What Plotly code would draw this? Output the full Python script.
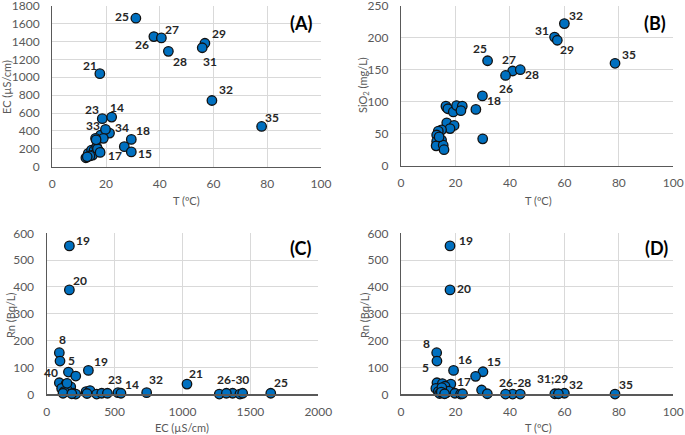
import plotly.graph_objects as go

W, H = 685, 435

# ---------------- Panel A: T vs EC ----------------
T_A = [31.1, 37.8, 40.6, 43.2, 56.8, 55.8, 17.7, 59.4, 77.9, 18.6, 22.1, 18.0, 21.3, 29.4, 26.8, 29.4,
       19.8, 19.0, 16.1, 12.5, 13.4, 14.6, 15.5, 17.5, 16.5, 15.0, 14.0, 13.0, 16.8, 17.8, 16.3]
EC_A = [1660, 1455, 1440, 1290, 1380, 1330, 1040, 740, 450, 537, 555, 354, 376, 305, 224, 165,
        417, 317, 317, 100, 149, 186, 179, 170, 223, 130, 120, 110, 200, 160, 300]
LAB_A = ["25", "26", "27", "28", "29", "31", "21", "32", "35", "23", "14", "33", "34", "18", "17", "15"]
OFF_A = [(-14, -2), (-12, 8), (11, -8), (12, 10), (14, -10), (8, 14), (-10, -8), (14, -11), (10, -9),
         (-10, -9), (5, -10), (-8, -10), (12, -6), (12, -9), (-9, 9), (14, 2)]

# ---------------- Panel B: T vs SiO2 ----------------
T_B = [60.0, 56.4, 57.4, 78.6, 31.8, 41.0, 43.8, 38.4, 29.9, 27.5, 30.0, 16.8, 16.5, 17.2, 19.2, 20.4,
       22.5, 22.0, 16.8, 19.5, 18.0, 14.9, 13.7, 13.1, 14.9, 13.1, 12.9, 15.5, 15.8, 14.0]
SI_B = [222, 201, 196, 160, 164, 148, 150, 141, 109, 88, 42, 91, 93, 89, 84, 94,
        93, 86, 67, 63, 58, 56, 54, 48, 40, 38, 31, 32, 25, 45]
LAB_B = ["32", "31", "29", "35", "25", "27", "28", "26", "18"]
OFF_B = [(12, -8), (-13, -7), (10, 9), (14, -9), (-8, -12), (-4, -11), (12, 5), (0, 13), (12, 5)]

# ---------------- Panel C: EC vs Rn ----------------
EC_C = [167, 167, 93, 98, 307, 93, 525, 547, 736, 1033, 1369, 1650,
        160, 214, 142, 177, 110, 152, 128, 120, 196, 214, 290, 319, 297, 368, 405, 447,
        1271, 1323, 1423, 1443, 150, 185]
RN_C = [553, 389, 155, 124, 89, 43, 6, 4, 6, 38, 4, 4,
        83, 68, 38, 28, 22, 16, 10, 4, 4, 1, 10, 14, 3, 1, 4, 4,
        1, 4, 1, 4, 41, 2]
LAB_C = ["19", "20", "8", "5", "19", "40", "23", "14", "32", "21", "26-30", "25"]
OFF_C = [(14, -5), (11, -9), (3, -13), (11, -1), (13, -9), (-8, -10), (-3, -13), (11, -9), (9, -13),
         (9, -11), (0, -14), (10, -11)]

# ---------------- Panel D: T vs Rn ----------------
T_D = [18.0, 18.0, 13.1, 13.2, 19.3, 30.1, 18.3, 41.0, 56.5, 60.0, 78.6,
       27.4, 13.2, 15.2, 16.2, 12.8, 13.7, 14.2, 15.5, 16.5, 17.5, 15.0, 19.8, 21.9, 22.6,
       29.6, 31.7, 38.4, 43.8, 57.8, 14.8, 16.0]
RN_D = [553, 389, 155, 124, 89, 84, 38, 1, 2, 4, 1,
        67, 43, 40, 30, 22, 10, 3, 14, 5, 12, 25, 4, 1, 2,
        16, 2, 1, 1, 2, 8, 2]
LAB_D = ["19", "20", "8", "5", "16", "15", "17", "26-28", "31;29", "32", "35"]
OFF_D = [(16, -5), (14, -1), (-10, -9), (-11, 6), (11, -11), (11, -10), (13, -3), (2, -12), (-2, -15),
         (12, -9), (11, -10)]

FONT = "Lato, 'Open Sans', sans-serif"
BLUE = "#0070C0"


def px(x):
    return x / W


def py(y):
    return 1 - y / H


panels = [
    dict(x=T_A, y=EC_A, lab=LAB_A, off=OFF_A, xd=(52.3, 321), yd=(5.7, 166.7), xr=[0, 100], yr=[0, 1800],
         dx=20, dy=200, letter="(A)", lpos=(301, 22.7), xt="T (ºC)", yt="EC (µS/cm)",
         xtp=(186, 200), ytp=(7, 87)),
    dict(x=T_B, y=SI_B, lab=LAB_B, off=OFF_B, xd=(401, 673.3), yd=(5.7, 165.7), xr=[0, 100], yr=[0, 250],
         dx=20, dy=50, letter="(B)", lpos=(655, 22.7), xt="T (ºC)", yt="SiO<sub>2</sub> (mg/L)",
         xtp=(538, 200), ytp=(364, 85)),
    dict(x=EC_C, y=RN_C, lab=LAB_C, off=OFF_C, xd=(46.7, 318.3), yd=(233.3, 394.3), xr=[0, 2000], yr=[0, 600],
         dx=500, dy=100, letter="(C)", lpos=(300, 248.3), xt="EC (µS/cm)", yt="Rn (Bq/L)",
         xtp=(182, 427), ytp=(10, 315)),
    dict(x=T_D, y=RN_D, lab=LAB_D, off=OFF_D, xd=(401, 673.3), yd=(233.3, 394.3), xr=[0, 100], yr=[0, 600],
         dx=20, dy=100, letter="(D)", lpos=(656, 248.3), xt="T (ºC)", yt="Rn (Bq/L)",
         xtp=(538, 427), ytp=(364, 315)),
]

fig = go.Figure()
annotations = []
layout = dict(
    width=W, height=H, margin=dict(l=0, r=0, t=0, b=0, autoexpand=False),
    paper_bgcolor="white", plot_bgcolor="white", showlegend=False,
    font=dict(family=FONT, size=12, color="#595959"),
)

for i, p in enumerate(panels):
    n = "" if i == 0 else str(i + 1)
    xa, ya = "x" + n, "y" + n
    fig.add_trace(go.Scatter(
        x=p["x"], y=p["y"], mode="markers", xaxis=xa, yaxis=ya, cliponaxis=False,
        marker=dict(size=9.5, color=BLUE, line=dict(color="#111111", width=1.3)),
        hoverinfo="skip",
    ))
    axis_common = dict(showgrid=True, gridcolor="#d9d9d9", gridwidth=1, zeroline=False,
                       showline=True, linecolor="#595959", linewidth=1.2, ticks="",
                       automargin=False, ticklabeloverflow="allow",
                       tickfont=dict(family=FONT, size=12, color="#595959"), fixedrange=True)
    layout["xaxis" + n] = dict(axis_common, domain=[px(p["xd"][0]), px(p["xd"][1])], range=p["xr"],
                               dtick=p["dx"], tick0=0, anchor=ya, ticklabelstandoff=6)
    layout["yaxis" + n] = dict(axis_common, domain=[py(p["yd"][1]), py(p["yd"][0])], range=p["yr"],
                               dtick=p["dy"], tick0=0, anchor=xa, ticklabelstandoff=9)
    for k, t in enumerate(p["lab"]):
        ox, oy = p["off"][k]
        annotations.append(dict(x=p["x"][k], y=p["y"][k], xref=xa, yref=ya, text="<b>%s</b>" % t,
                                showarrow=False, xshift=ox, yshift=-oy,
                                xanchor="center", yanchor="middle",
                                font=dict(family=FONT, size=12, color="#262626")))
    annotations.append(dict(x=px(p["lpos"][0]), y=py(p["lpos"][1]), xref="paper", yref="paper",
                            text="<b>%s</b>" % p["letter"], showarrow=False,
                            xanchor="center", yanchor="middle",
                            font=dict(family=FONT, size=18, color="#000000")))
    annotations.append(dict(x=px(p["xtp"][0]), y=py(p["xtp"][1]), xref="paper", yref="paper",
                            text=p["xt"], showarrow=False, xanchor="center", yanchor="middle",
                            font=dict(family=FONT, size=11, color="#595959")))
    annotations.append(dict(x=px(p["ytp"][0]), y=py(p["ytp"][1]), xref="paper", yref="paper",
                            text=p["yt"], showarrow=False, textangle=-90,
                            xanchor="center", yanchor="middle",
                            font=dict(family=FONT, size=11, color="#595959")))

layout["annotations"] = annotations
fig.update_layout(**layout)
fig.write_html("out.html", config={"displayModeBar": False, "staticPlot": True},
               post_script="document.body.style.margin='0';document.body.style.overflow='hidden';")
